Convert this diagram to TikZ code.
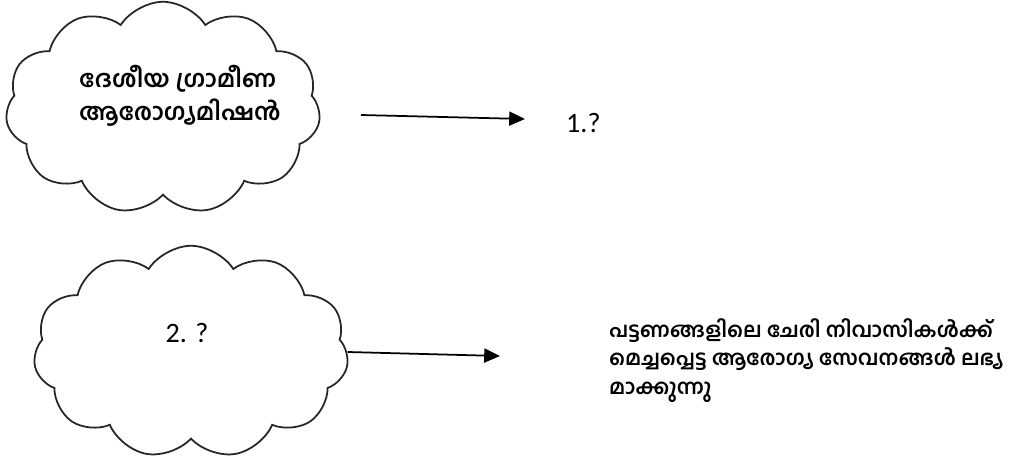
\documentclass[tikz,border=0pt]{standalone}
\usepackage{fontspec}
\setmainfont{Carlito}
\newfontfamily\mlfont[Script=Malayalam]{Hind Kochi}
\usetikzlibrary{shapes.symbols,arrows.meta}

\tikzset{bubble/.style={shape=cloud,draw=black!85,line width=1pt,cloud puffs=11,cloud puff arc=115,cloud ignores aspect,minimum width=6.3cm,minimum height=4.25cm,inner sep=0pt},
  mltext/.style={align=left,font=\mlfont\bfseries\fontsize{13.5}{18.5}\selectfont},
  longtext/.style={align=left,font=\mlfont\bfseries\fontsize{11.8}{16.4}\selectfont},
  qtext/.style={font=\fontsize{16}{18}\selectfont},
  arr/.style={-{Triangle[length=9pt,width=8pt]},line width=1pt}}

\begin{document}
\begin{tikzpicture}[x=0.02cm,y=-0.02cm]
\useasboundingbox[fill=white] (0,0) rectangle (1015,460);

\node[bubble] (cloudA) at (163,108) {};
\node[mltext] (nrhm) at (180,96) {ദേശീയ ഗ്രാമീണ\\ആരോഗ്യമിഷൻ};
\node[bubble] (cloudB) at (191,352) {};
\node[qtext] (q2) at (187,333) {2. ?};

\coordinate (a1) at (361,115);
\node[qtext,anchor=west] (q1) at (560,123) {1.?};
\path [arr,draw=black] (a1) -- (525,119);

\node[longtext,anchor=north west] (nuhm) at (603,312) {പട്ടണങ്ങളിലെ ചേരി നിവാസികൾക്ക്\\മെച്ചപ്പെട്ട ആരോഗ്യ സേവനങ്ങൾ ലഭ്യ\\മാക്കുന്നു};
\path [arr,draw=black] (cloudB.east) -- (500,356);
\end{tikzpicture}
\end{document}
